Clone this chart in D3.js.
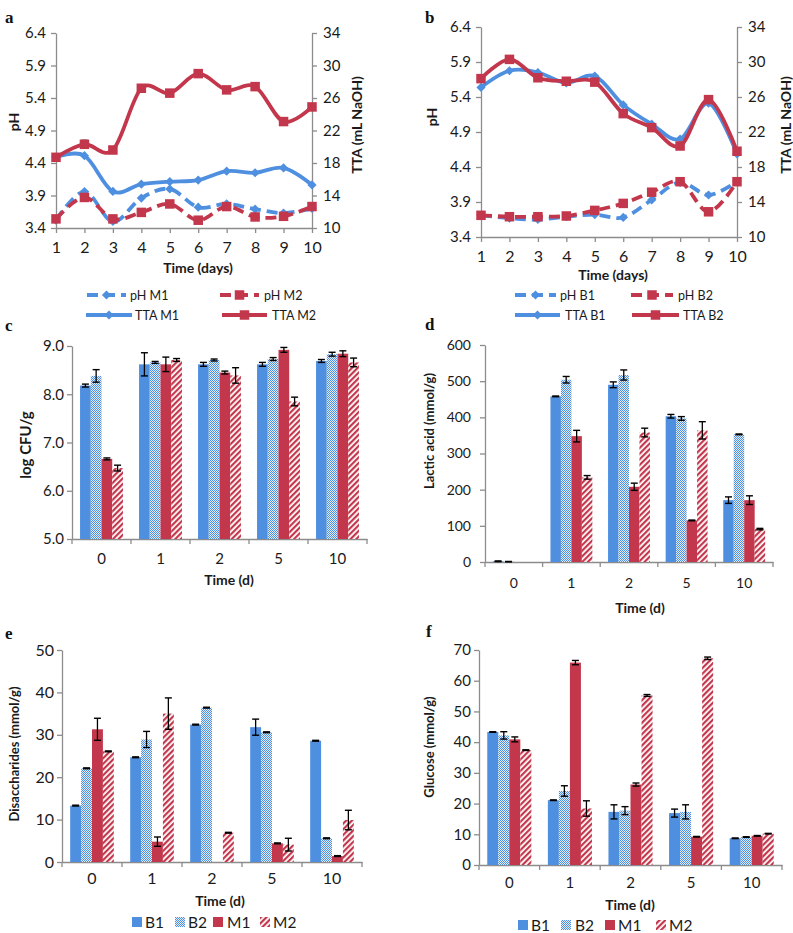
<!DOCTYPE html>
<html><head><meta charset="utf-8">
<script src="https://cdn.jsdelivr.net/npm/d3@7"></script>
<style>body{margin:0;background:#fff}svg{display:block;background:#fff}</style>
</head><body><svg id="c" width="793" height="933"></svg>
<script>
// ---------- DATA ----------
const days = [1,2,3,4,5,6,7,8,9,10];
const phTicks = [3.4,3.9,4.4,4.9,5.4,5.9,6.4];
const ttaTicks = [10,14,18,22,26,30,34];
// panel a
const phM1  = [3.52,3.96,3.50,3.86,4.00,3.72,3.77,3.69,3.63,3.70];
const phM2  = [3.54,3.87,3.54,3.64,3.77,3.52,3.73,3.57,3.58,3.73];
const ttaM1 = [18.7,18.9,14.5,15.4,15.7,15.9,17.0,16.8,17.4,15.3];
const ttaM2 = [18.7,20.3,19.6,27.2,26.6,29.0,27.0,27.4,23.1,24.9];
const ttaM2Err = [0,0.5,0,0,0,0,0,0,0,0];
// panel b
const phB1  = [3.71,3.67,3.65,3.69,3.72,3.68,3.93,4.18,4.00,4.19];
const phB2  = [3.71,3.69,3.69,3.70,3.78,3.88,4.04,4.19,3.76,4.19];
const ttaB1 = [27.1,29.0,28.8,27.6,28.4,25.1,22.9,21.2,25.3,19.5];
const ttaB2 = [28.1,30.3,28.2,27.8,27.7,24.1,22.5,20.4,25.7,19.8];

const cats = ["0","1","2","5","10"];
const seriesNames = ["B1","B2","M1","M2"];
// panel c: log CFU/g
const cfuB1 = [8.18,8.62,8.62,8.62,8.69], cfuB1Err = [0.03,0.24,0.04,0.04,0.03];
const cfuB2 = [8.38,8.66,8.71,8.73,8.83], cfuB2Err = [0.13,0.02,0.02,0.03,0.04];
const cfuM1 = [6.66,8.62,8.45,8.92,8.84], cfuM1Err = [0.02,0.15,0.03,0.05,0.06];
const cfuM2 = [6.47,8.71,8.39,7.85,8.66], cfuM2Err = [0.06,0.03,0.16,0.09,0.09];
const cfuTicks = [5,6,7,8,9];
// panel d: lactic acid
const lacB1 = [2,458,490,403,171], lacB1Err = [1,1,8,5,9];
const lacB2 = [1,504,517,397,353], lacB2Err = [0.5,9,14,5,1];
const lacM1 = [0,348,208,115,171], lacM1Err = [0,16,10,1,12];
const lacM2 = [0,234,358,364,91],  lacM2Err = [0,5,12,24,2];
const lacTicks = [0,100,200,300,400,500,600];
// panel e: disaccharides
const disB1 = [13.3,24.7,32.4,31.8,28.6], disB1Err = [0.1,0.1,0.1,1.9,0.1];
const disB2 = [22.1,28.9,36.4,30.6,5.6],  disB2Err = [0.1,1.9,0.1,0.1,0.1];
const disM1 = [31.3,4.8,0,4.4,1.4],       disM1Err = [2.6,1.1,0,0.1,0.1];
const disM2 = [26.1,35.0,6.9,4.1,9.9],    disM2Err = [0.1,3.7,0.1,1.5,2.3];
const disTicks = [0,10,20,30,40,50];
// panel f: glucose
const gluB1 = [43.3,21.1,17.3,16.9,8.7],  gluB1Err = [0.1,0.1,2.3,1.3,0.1];
const gluB2 = [42.2,24.1,17.7,17.3,9.1],  gluB2Err = [1.2,1.7,1.3,2.3,0.1];
const gluM1 = [40.9,65.9,26.2,9.2,9.5],   gluM1Err = [0.8,0.7,0.5,0.1,0.1];
const gluM2 = [37.4,18.4,55.2,67.3,10.2], gluM2Err = [0.1,2.5,0.3,0.4,0.1];
const gluTicks = [0,10,20,30,40,50,60,70];

// ---------- STYLE ----------
const BLUE = "#4f8fe0", RED = "#c3374c", AXIS = "#8c8c8c", TXT = "#1a1a1a";
const FONT = "Lato, 'Open Sans', sans-serif";
const svg = d3.select("#c");
const defs = svg.append("defs");
const pB2 = defs.append("pattern").attr("id","pB2").attr("patternUnits","userSpaceOnUse").attr("width",2).attr("height",2);
pB2.append("rect").attr("width",2).attr("height",2).attr("fill","#e4eefb");
pB2.append("rect").attr("width",1).attr("height",1).attr("fill",BLUE);
pB2.append("rect").attr("x",1).attr("y",1).attr("width",1).attr("height",1).attr("fill",BLUE);
const pM2 = defs.append("pattern").attr("id","pM2").attr("patternUnits","userSpaceOnUse").attr("width",4).attr("height",4).attr("patternTransform","rotate(45)");
pM2.append("rect").attr("width",4).attr("height",4).attr("fill","#ffffff");
pM2.append("rect").attr("width",2.2).attr("height",4).attr("fill",RED);
const fills = {B1:BLUE, B2:"url(#pB2)", M1:RED, M2:"url(#pM2)"};

function styleAxis(g, fs){
  g.selectAll(".domain").attr("stroke",AXIS).attr("stroke-width",1.3);
  g.selectAll(".tick line").attr("stroke",AXIS).attr("stroke-width",1.3);
  g.selectAll(".tick text").attr("fill",TXT).style("font-family",FONT).style("font-size",fs+"px");
}
function panelLabel(t,x,y){
  svg.append("text").attr("x",x).attr("y",y).text(t)
    .style("font-family","'Liberation Serif','DejaVu Serif',serif").style("font-weight","bold").style("font-size","17px").attr("fill","#111");
}
function rotTitle(t,cx,cy,fs){
  svg.append("text").attr("transform",`translate(${cx},${cy}) rotate(-90)`).attr("text-anchor","middle")
    .attr("dominant-baseline","central").text(t)
    .style("font-family",FONT).style("font-weight","bold").style("font-size",fs+"px").attr("fill",TXT);
}
function hTitle(t,cx,y,fs){
  svg.append("text").attr("x",cx).attr("y",y).attr("text-anchor","middle").text(t)
    .style("font-family",FONT).style("font-weight","bold").style("font-size",fs+"px").attr("fill",TXT);
}
function marker(g, type, color, cx, cy){
  if(type==="diamond"){
    const r=4.6;
    g.append("path").attr("d",`M${cx},${cy-r}L${cx+r},${cy}L${cx},${cy+r}L${cx-r},${cy}Z`).attr("fill",color);
  } else {
    const s=9.5;
    g.append("rect").attr("x",cx-s/2).attr("y",cy-s/2).attr("width",s).attr("height",s).attr("fill",color);
  }
}

// ---------- LINE PANELS ----------
function linePanel(o){
  const x = d3.scaleLinear().domain([1,10]).range([o.x0,o.x1]);
  const yL = d3.scaleLinear().domain([3.4,6.4]).range([o.yb,o.yt]);
  const yR = d3.scaleLinear().domain([10,34]).range([o.yb,o.yt]);
  const g = svg.append("g");
  styleAxis(g.append("g").attr("transform",`translate(${o.x0},0)`)
    .call(d3.axisLeft(yL).tickValues(phTicks).tickFormat(d3.format(".1f")).tickSize(5).tickPadding(5).tickSizeOuter(0)),15);
  styleAxis(g.append("g").attr("transform",`translate(${o.x1},0)`)
    .call(d3.axisRight(yR).tickValues(ttaTicks).tickSize(5).tickPadding(6).tickSizeOuter(0)),15);
  styleAxis(g.append("g").attr("transform",`translate(0,${o.yb})`)
    .call(d3.axisBottom(x).tickValues(days).tickSize(5).tickPadding(9).tickSizeOuter(0)),16);
  const line = (ys)=>d3.line().x((d,i)=>x(days[i])).y(d=>ys(d)).curve(d3.curveCardinal.tension(0));
  o.series.forEach(s=>{
    const ys = s.axis==="L"?yL:yR;
    g.append("path").attr("d",line(ys)(s.vals)).attr("fill","none").attr("stroke",s.color)
      .attr("stroke-width",3.8).attr("stroke-linejoin","round").attr("stroke-linecap","butt")
      .attr("stroke-dasharray",s.dash?"11,6":null);
    if(s.err){
      s.err.forEach((e,i)=>{ if(e>0){
        const cx=x(days[i]);
        g.append("line").attr("x1",cx).attr("x2",cx).attr("y1",ys(s.vals[i]-e)).attr("y2",ys(s.vals[i]+e)).attr("stroke","#000").attr("stroke-width",1.2);
        [s.vals[i]-e,s.vals[i]+e].forEach(v=>g.append("line").attr("x1",cx-3).attr("x2",cx+3).attr("y1",ys(v)).attr("y2",ys(v)).attr("stroke","#000").attr("stroke-width",1.2));
      }});
    }
    s.vals.forEach((v,i)=>marker(g,s.marker,s.color,x(days[i]),ys(v)));
  });
  // legend
  o.legend.forEach(l=>{
    const lg = svg.append("g");
    lg.append("line").attr("x1",l.x0).attr("x2",l.x1).attr("y1",l.y).attr("y2",l.y).attr("stroke",l.s.color)
      .attr("stroke-width",3.8).attr("stroke-dasharray",l.s.dash?"11,6":null);
    marker(lg,l.s.marker,l.s.color,(l.x0+l.x1)/2,l.y);
    lg.append("text").attr("x",l.tx).attr("y",l.y).attr("dominant-baseline","central").text(l.s.name)
      .style("font-family",FONT).style("font-size","12.5px").attr("fill",TXT);
  });
}

const sA = [
  {name:"pH M1", vals:phM1, axis:"L", color:BLUE, dash:true, marker:"diamond"},
  {name:"pH M2", vals:phM2, axis:"L", color:RED, dash:true, marker:"square"},
  {name:"TTA M1", vals:ttaM1, axis:"R", color:BLUE, dash:false, marker:"diamond"},
  {name:"TTA M2", vals:ttaM2, axis:"R", color:RED, dash:false, marker:"square", err:ttaM2Err}
];
linePanel({x0:56,x1:312,yb:228,yt:33,series:sA,legend:[
  {s:sA[0],x0:87,x1:126,y:295,tx:130},{s:sA[1],x0:220,x1:259,y:295,tx:264},
  {s:sA[2],x0:86,x1:132,y:315,tx:135},{s:sA[3],x0:222,x1:267,y:315,tx:272}]});
const sB = [
  {name:"pH B1", vals:phB1, axis:"L", color:BLUE, dash:true, marker:"diamond"},
  {name:"pH B2", vals:phB2, axis:"L", color:RED, dash:true, marker:"square"},
  {name:"TTA B1", vals:ttaB1, axis:"R", color:BLUE, dash:false, marker:"diamond"},
  {name:"TTA B2", vals:ttaB2, axis:"R", color:RED, dash:false, marker:"square"}
];
linePanel({x0:481,x1:737,yb:237,yt:27,series:sB,legend:[
  {s:sB[0],x0:515,x1:556,y:295,tx:560},{s:sB[1],x0:631,x1:673,y:295,tx:678},
  {s:sB[2],x0:515,x1:560,y:315,tx:565},{s:sB[3],x0:632,x1:679,y:315,tx:683}]});

panelLabel("a",5,23); panelLabel("b",425,23);
rotTitle("pH",13,122,14); rotTitle("TTA (mL NaOH)",356,125,14); hTitle("Time (days)",198,273,14);
rotTitle("pH",431,117,14); rotTitle("TTA (mL NaOH)",785,125,14); hTitle("Time (days)",613,280,14);

// ---------- BAR PANELS ----------
function barPanel(o){
  const x = d3.scaleBand().domain(cats).range([o.x0,o.x1]);
  const xi = d3.scaleBand().domain(seriesNames).range([0,x.bandwidth()]).paddingInner(0).paddingOuter(0.75);
  const y = d3.scaleLinear().domain(o.domain).range([o.yb,o.yt]);
  const g = svg.append("g");
  styleAxis(g.append("g").attr("transform",`translate(${o.x0},0)`)
    .call(d3.axisLeft(y).tickValues(o.ticks).tickFormat(o.fmt).tickSize(5).tickPadding(o.ypad).tickSizeOuter(0)),o.fs);
  const xa = g.append("g").attr("transform",`translate(0,${o.yb})`)
    .call(d3.axisBottom(x).tickSize(0).tickPadding(o.xpad).tickSizeOuter(0));
  styleAxis(xa,o.fs);
  const bounds = cats.map(c=>x(c)).concat([x(cats[cats.length-1])+x.bandwidth()]);
  bounds.forEach(b=>g.append("line").attr("x1",b).attr("x2",b).attr("y1",o.yb).attr("y2",o.yb+5).attr("stroke",AXIS).attr("stroke-width",1.3));
  o.data.forEach((vals,si)=>{
    const s = seriesNames[si];
    vals.forEach((v,ci)=>{
      const bx = x(cats[ci])+xi(s);
      if(v>o.domain[0]) g.append("rect").attr("x",bx).attr("y",y(v)).attr("width",xi.bandwidth()).attr("height",o.yb-y(v)).attr("fill",fills[s]);
      const e = o.errs[si][ci];
      if(e>0){
        const cx = bx+xi.bandwidth()/2;
        g.append("line").attr("x1",cx).attr("x2",cx).attr("y1",y(v-e)).attr("y2",y(v+e)).attr("stroke","#000").attr("stroke-width",1.3);
        [v-e,v+e].forEach(t=>g.append("line").attr("x1",cx-3.5).attr("x2",cx+3.5).attr("y1",y(t)).attr("y2",y(t)).attr("stroke","#000").attr("stroke-width",1.4));
      }
    });
  });
  if(o.legend){
    o.legend.forEach((l,i)=>{
      svg.append("rect").attr("x",l.sx).attr("y",o.legendY-5).attr("width",10).attr("height",10).attr("fill",fills[seriesNames[i]]);
      svg.append("text").attr("x",l.tx).attr("y",o.legendY).attr("dominant-baseline","central").text(seriesNames[i])
        .style("font-family",FONT).style("font-size","15.5px").attr("fill",TXT);
    });
  }
}

barPanel({x0:72,x1:367,yb:539,yt:346,domain:[5,9],ticks:cfuTicks,fmt:d3.format(".1f"),fs:15,ypad:3,xpad:14,
  data:[cfuB1,cfuB2,cfuM1,cfuM2],errs:[cfuB1Err,cfuB2Err,cfuM1Err,cfuM2Err]});
panelLabel("c",5,331); rotTitle("log CFU/g",25,445,15); hTitle("Time (d)",229,585,14);

barPanel({x0:485,x1:773,yb:562,yt:345,domain:[0,600],ticks:lacTicks,fmt:d3.format("d"),fs:14,ypad:9,xpad:16,
  data:[lacB1,lacB2,lacM1,lacM2],errs:[lacB1Err,lacB2Err,lacM1Err,lacM2Err]});
panelLabel("d",425,330); rotTitle("Lactic acid (mmol/g)",429,431,13); hTitle("Time (d)",640,613,14);

barPanel({x0:62,x1:362,yb:862,yt:650,domain:[0,50],ticks:disTicks,fmt:d3.format("d"),fs:16,ypad:3,xpad:11,
  data:[disB1,disB2,disM1,disM2],errs:[disB1Err,disB2Err,disM1Err,disM2Err],
  legendY:922,legend:[{sx:132,tx:145},{sx:175,tx:188},{sx:213,tx:227},{sx:260,tx:273}]});
panelLabel("e",5,639); rotTitle("Disaccharides (mmol/g)",14,754,13); hTitle("Time (d)",220,906,14);

barPanel({x0:479,x1:782,yb:865,yt:650,domain:[0,70],ticks:gluTicks,fmt:d3.format("d"),fs:15,ypad:3,xpad:12,
  data:[gluB1,gluB2,gluM1,gluM2],errs:[gluB1Err,gluB2Err,gluM1Err,gluM2Err],
  legendY:925,legend:[{sx:518,tx:531},{sx:561,tx:575},{sx:605,tx:618},{sx:656,tx:669}]});
panelLabel("f",426,637); rotTitle("Glucose (mmol/g)",429,747,13); hTitle("Time (d)",630,910,14);
</script></body></html>
